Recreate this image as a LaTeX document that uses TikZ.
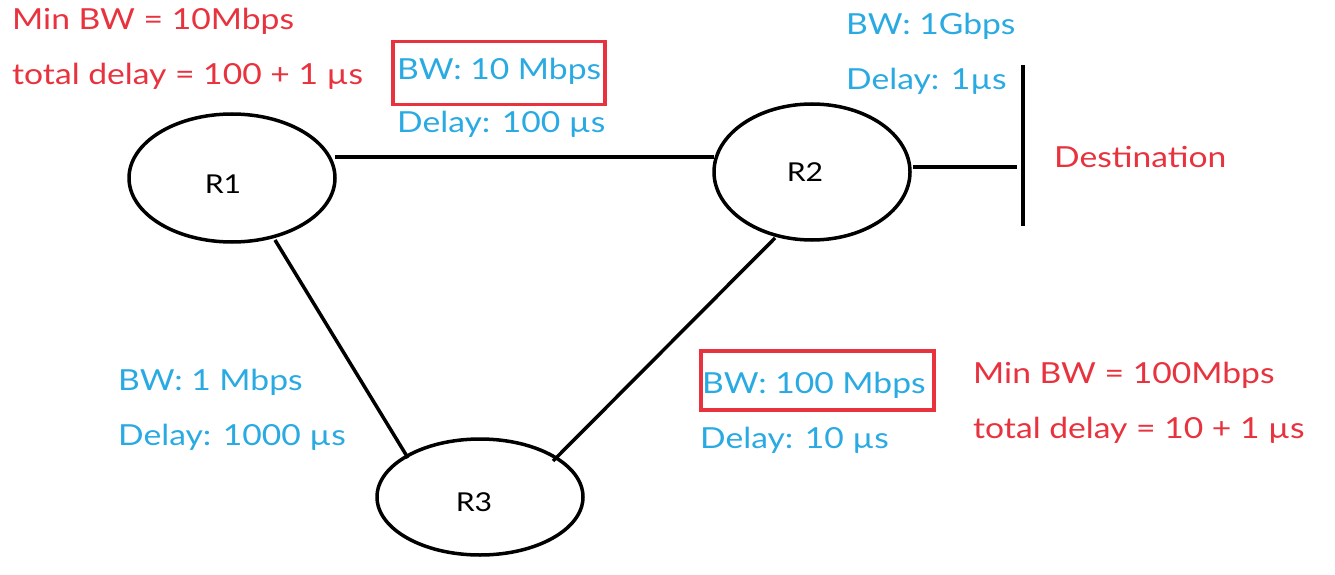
\documentclass[tikz,border=0pt]{standalone}
\usepackage{fontspec}
\setmainfont[FakeStretch=1.16]{Lato}
\usetikzlibrary{shapes.geometric}
\definecolor{rd}{HTML}{E8323E}
\definecolor{bl}{HTML}{2AAAE2}
\tikzset{
  router/.style={draw=black, line width=3.5pt, ellipse, inner sep=0pt},
  link/.style={draw=black, line width=3.5pt},
  lbl/.style={anchor=base west, inner sep=0pt, font=\fontsize{29}{34}\selectfont},
  redt/.style={lbl, text=rd},
  bluet/.style={lbl, text=bl},
  hbox/.style={draw=rd, line width=3.5pt}
}
\begin{document}
\begin{tikzpicture}[x=1pt,y=-1pt]
\useasboundingbox (0,0) rectangle (1335,575);
% routers
\node[router, minimum width=206pt, minimum height=128pt] (R1) at (232,178) {};
\node[router, minimum width=196pt, minimum height=136pt] (R2) at (812,172) {};
\node[router, minimum width=206pt, minimum height=116pt] (R3) at (480,497) {};
\node[lbl, anchor=center, font=\fontsize{26}{30}\selectfont] (t1) at (223,184) {R1};
\node[lbl, anchor=center, font=\fontsize{26}{30}\selectfont] (t2) at (805,172) {R2};
\node[lbl, anchor=center, font=\fontsize{26}{30}\selectfont] (t3) at (474,502) {R3};
% links
\coordinate (a1) at (335,157);
\coordinate (a2) at (714,157);
\draw[link] (a1) -- (a2);
\coordinate (b1) at (275,240);
\coordinate (b2) at (408,458);
\draw[link] (b1) -- (b2);
\coordinate (c1) at (775,238);
\coordinate (c2) at (553,461);
\draw[link] (c1) -- (c2);
\coordinate (d1) at (913,167);
\coordinate (d2) at (1017,167);
\draw[link] (d1) -- (d2);
\coordinate (v1) at (1023,65);
\coordinate (v2) at (1023,226);
\draw[link] (v1) -- (v2);
% texts
\node[redt] (dest) at (1054,167) {Destination};
\node[redt] (m1) at (12,30) {Min BW = 10Mbps};
\node[redt] (m2) at (12,85) {total delay = 100 + 1 µs};
\node[bluet] (l1) at (397,80) {BW: 10 Mbps};
\node[bluet] (l2) at (397,132) {Delay: 100 µs};
\node[hbox, minimum width=212pt, minimum height=63pt, anchor=north west] (box1) at (391,40) {};
\node[bluet] (g1) at (846,35) {BW: 1Gbps};
\node[bluet] (g2) at (846,90) {Delay: 1µs};
\node[bluet] (s1) at (118,390) {BW: 1 Mbps};
\node[bluet] (s2) at (118,445) {Delay: 1000 µs};
\node[bluet] (h1) at (702,393) {BW: 100 Mbps};
\node[bluet] (h2) at (700,448) {Delay: 10 µs};
\node[hbox, minimum width=233pt, minimum height=59pt, anchor=north west] (box2) at (699,349) {};
\node[redt] (n1) at (973,383) {Min BW = 100Mbps};
\node[redt] (n2) at (973,438) {total delay = 10 + 1 µs};
\end{tikzpicture}
\end{document}
